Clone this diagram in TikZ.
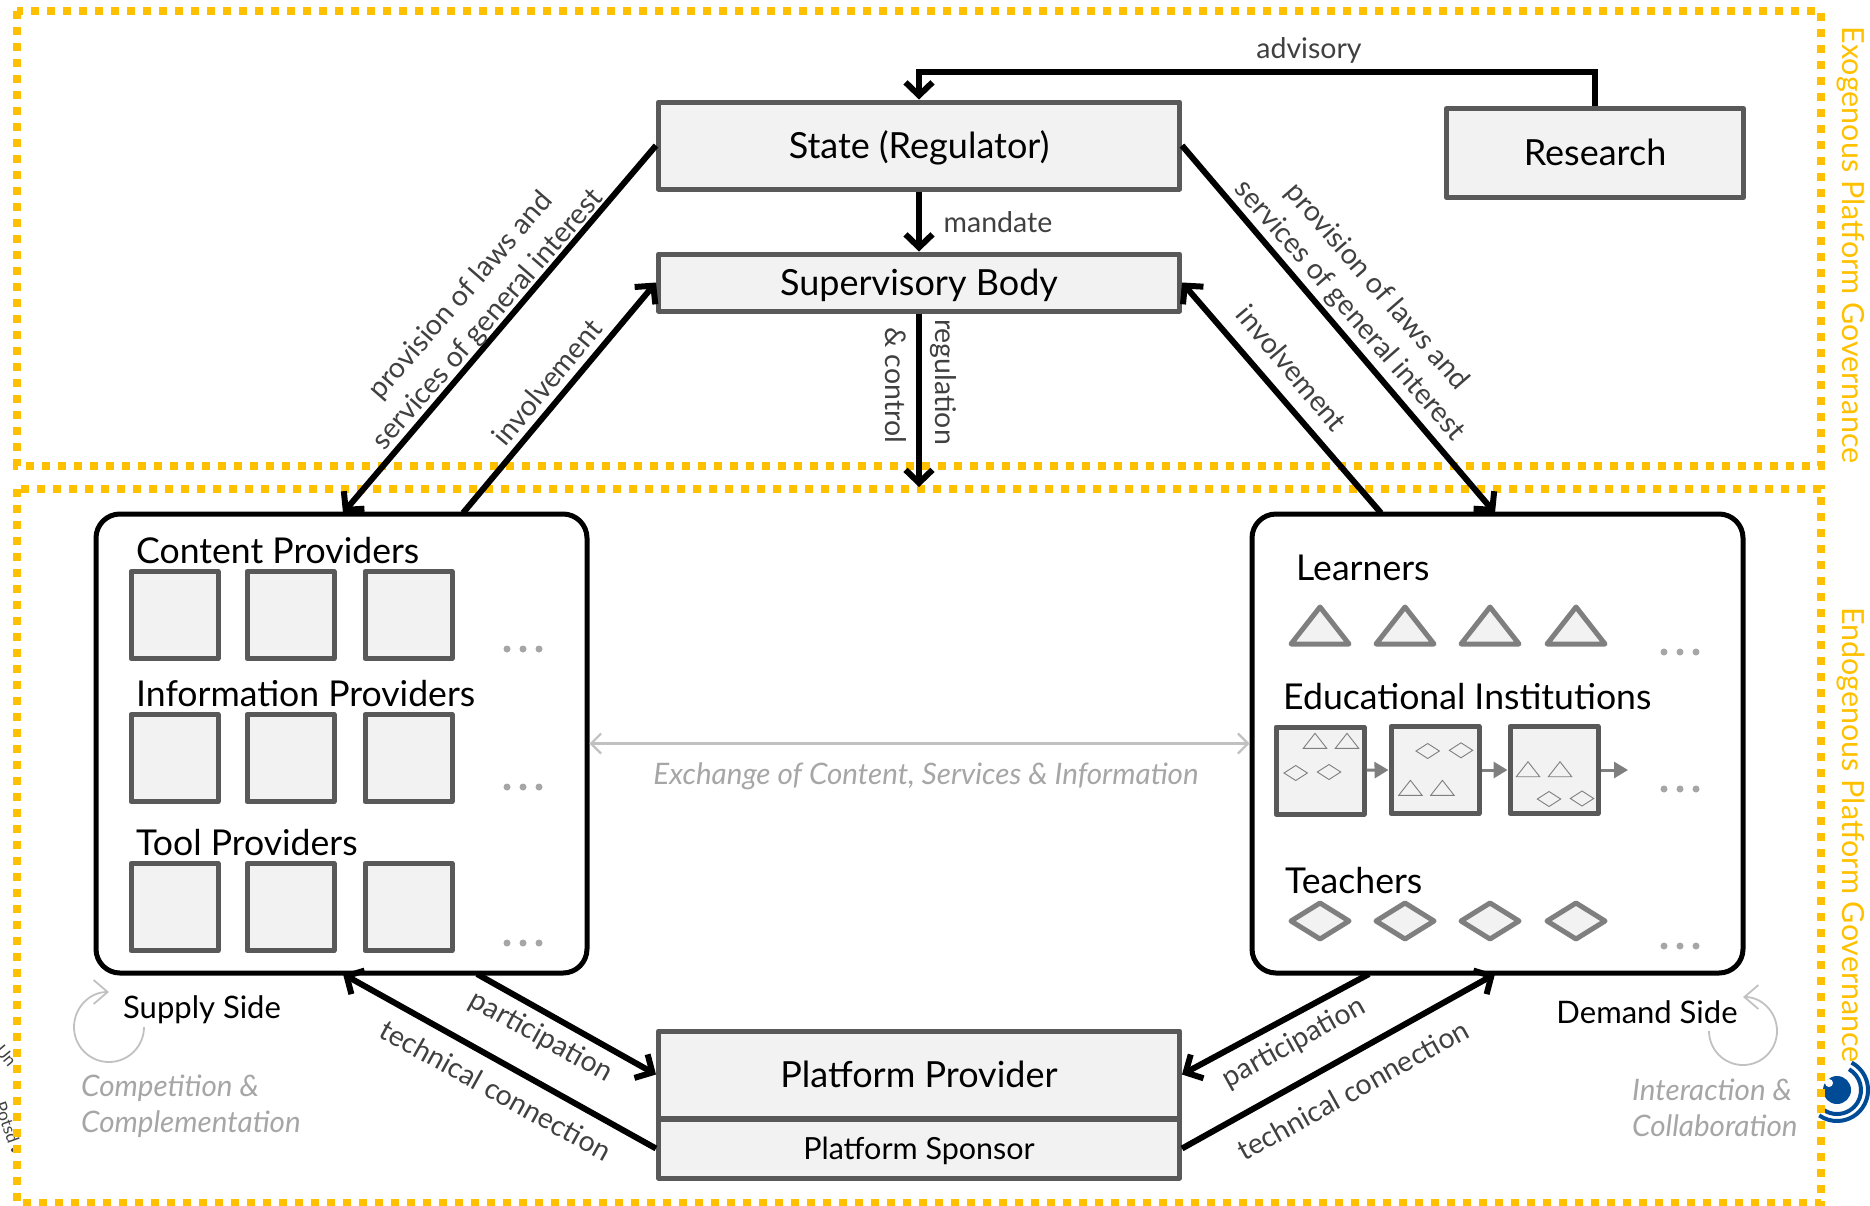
\documentclass[tikz,border=0pt]{standalone}
\usepackage{fontspec}
\setmainfont{Lato}
\usetikzlibrary{arrows.meta}
\definecolor{gold}{HTML}{FFC000}
\definecolor{boxfill}{HTML}{F2F2F2}
\definecolor{boxline}{HTML}{595959}
\definecolor{iconline}{HTML}{7F7F7F}
\definecolor{labeltext}{HTML}{404040}
\definecolor{softtext}{HTML}{A6A6A6}
\definecolor{logoblue}{HTML}{004B96}
\tikzset{
    govline/.style={draw=gold, line width=8pt, dash pattern=on 8pt off 8pt},
    govtext/.style={text=gold, rotate=-90, font=\fontsize{30.5}{34}\selectfont},
    actor/.style={draw=boxline, fill=boxfill, line width=5pt, line join=round, inner sep=0pt, text height=25pt, text depth=0pt, font=\fontsize{36}{40}\selectfont},
    side/.style={draw=black, fill=white, line width=5pt, rounded corners=24pt, inner sep=0pt},
    member/.style={draw=boxline, fill=boxfill, line width=5pt, line join=round, inner sep=0pt, minimum width=87pt, minimum height=87pt},
    icon/.style={draw=iconline, fill=boxfill, line width=5pt, line join=round},
    minicon/.style={draw=iconline, line width=0.9pt},
    dots/.style={fill=softtext, draw=none},
    grouptext/.style={anchor=west, inner sep=0pt, font=\fontsize{35.6}{40}\selectfont},
    sidetext/.style={inner sep=0pt, font=\fontsize{31}{36}\selectfont},
    softlabel/.style={anchor=west, align=left, inner sep=0pt, text=softtext, font=\fontsize{29.6}{36}\selectfont\itshape},
    edgetext/.style={inner sep=0pt, align=center, text=labeltext, font=\fontsize{28.5}{36}\selectfont},
    link/.style={line width=6pt, -{Straight Barb[length=13pt,width=27pt]}},
    softlink/.style={draw=softtext!70, line width=2.2pt, {Straight Barb[length=10pt,width=20pt]}-{Straight Barb[length=10pt,width=20pt]}},
    cycler/.style={draw=softtext!70, line width=1.8pt, -{Straight Barb[length=14pt,width=24pt]}},
    flow/.style={draw=iconline, line width=3pt, -{Triangle[length=14pt,width=16pt]}},
}
\begin{document}
\begin{tikzpicture}[x=1pt, y=-1pt]
    \useasboundingbox (0,0) rectangle (1870,1205);

    % leftovers of the logos at the image edges
    \node[rotate=-50, text=labeltext, font=\fontsize{17}{20}\selectfont] (uni) at (6,1056) {Un};
    \node[rotate=-70, text=labeltext, font=\fontsize{17}{20}\selectfont] (pots) at (7,1122) {Potsd};
    \fill[labeltext] (13,1150) circle (2pt);
    \begin{scope}[shift={(1837,1090)}, y=1pt]
        \fill[logoblue] (0,0) circle (14pt);
        \fill[white] (-8,7) circle (4pt);
        \draw[logoblue, line width=4pt] (60:24pt) arc[start angle=60, end angle=-125, radius=24pt];
        \draw[logoblue, line width=4pt] (62:31pt) arc[start angle=62, end angle=-125, radius=31pt];
    \end{scope}

    % the two governance frames
    \draw[govline] (17,11) rectangle (1821,466);
    \draw[govline] (17,489) rectangle (1821,1203);
    \node[govtext] (exotext) at (1851,245) {Exogenous Platform Governance};
    \node[govtext] (endotext) at (1851,835) {Endogenous Platform Governance};

    % actors
    \node[actor, minimum width=521pt, minimum height=87pt] (state) at (919,145.5) {State (Regulator)};
    \node[actor, minimum width=297pt, minimum height=89pt] (research) at (1595,153) {Research};
    \node[actor, minimum width=521pt, minimum height=57pt] (super) at (919,282.5) {Supervisory Body};
    \node[actor, minimum width=521pt, minimum height=87pt] (provider) at (919,1074.5) {Platform Provider};
    \node[actor, minimum width=521pt, minimum height=59pt, text height=21pt, font=\fontsize{30.5}{34}\selectfont] (sponsor) at (919,1148.5) {Platform Sponsor};
    \node[side, minimum width=491pt, minimum height=459pt] (supply) at (341.5,743.5) {};
    \node[side, minimum width=491pt, minimum height=459pt] (demand) at (1497.5,743.5) {};

    % free ends on the two side boxes
    \coordinate (supplyin) at (343,513);
    \coordinate (supplyout) at (463,513);
    \coordinate (demandout) at (1381,513);
    \coordinate (demandin) at (1495,513);
    \coordinate (supplydown) at (477,974);
    \coordinate (supplyup) at (343,974);
    \coordinate (demanddown) at (1369,974);
    \coordinate (demandup) at (1495,974);
    \coordinate (controlend) at (919,487);

    % supply side
    \node[grouptext] (content) at (136,551) {Content Providers};
    \node[grouptext] (info) at (136,694) {Information Providers};
    \node[grouptext] (tool) at (136,843) {Tool Providers};
    \foreach \y / \yname in {615/a, 758/b, 907/c}
    {
        \foreach \x / \xname in {174.5/1, 290.5/2, 408.5/3}
            \node[member] (\yname\xname) at (\x,\y) {};
    }
    \foreach \y in {649, 787, 943}
    {
        \foreach \x in {507, 523, 539}
            \fill[dots] (\x,\y) circle (3.5pt);
    }

    % demand side
    \node[grouptext] (learners) at (1296,568) {Learners};
    \node[grouptext] (schools) at (1283,697) {Educational Institutions};
    \node[grouptext] (teachers) at (1285,881) {Teachers};
    \foreach \x in {1291, 1376, 1461, 1547}
    {
        \draw[icon] (\x,644) -- ++(29,-37) -- ++(29,37) -- cycle;
        \draw[icon] (\x,921) -- ++(29,-18) -- ++(29,18) -- ++(-29,18) -- cycle;
    }
    \node[member, minimum width=88pt] (inst1) at (1320,770.5) {};
    \node[member, minimum width=88pt] (inst2) at (1435,770) {};
    \node[member, minimum width=88pt] (inst3) at (1554,770) {};
    \coordinate (instend) at (1628,770);
    \draw[flow] (inst1) -- (inst2.west);
    \draw[flow] (inst2) -- (inst3.west);
    \draw[flow] (inst3) -- (instend);
    \foreach \x / \y in {1303.3/748.3, 1335.3/748.3, 1398.7/795.3, 1430.7/795.3, 1516.3/776.7, 1548.3/776.7}
        \draw[minicon] (\x,\y) -- ++(11.7,-15) -- ++(11.7,15) -- cycle;
    \foreach \x / \y in {1284/773, 1317.3/772, 1416/751, 1449.3/750.3, 1537.3/799, 1570.3/798.5}
        \draw[minicon] (\x,\y) -- ++(11.7,-7.5) -- ++(11.7,7.5) -- ++(-11.7,7.5) -- cycle;
    \foreach \y in {652, 789, 946}
    {
        \foreach \x in {1664, 1680, 1696}
            \fill[dots] (\x,\y) circle (3.5pt);
    }

    % connectors
    \draw[link] (research.north) -- ++(0,-34) -| (state.north);
    \draw[link] (state) -- (super);
    \draw[link] (super) -- (controlend);
    \draw[link] (state.west) -- (supplyin);
    \draw[link] (state.east) -- (demandin);
    \draw[link] (supplyout) -- (super.west);
    \draw[link] (demandout) -- (super.east);
    \draw[link] (supplydown) -- (provider.west);
    \draw[link] (demanddown) -- (provider.east);
    \draw[link] (sponsor.west) -- (supplyup);
    \draw[link] (sponsor.east) -- (demandup);
    \coordinate (swapleft) at (supply.east);
    \coordinate (swapright) at (demand.west);
    \draw[softlink] (swapleft) -- (swapright);

    % connector labels
    \node[edgetext] (advisory) at (1309,50) {advisory};
    \node[edgetext] (mandate) at (998,222) {mandate};
    \node[edgetext, rotate=-90] (regul) at (943,382) {regulation};
    \node[edgetext, rotate=-90] (ctrl) at (896,385) {\& control};
    \node[edgetext, rotate=49] (lawsl) at (475,308) {provision of laws and\\services of general interest};
    \node[edgetext, rotate=-49] (lawsr) at (1363,299) {provision of laws and\\services of general interest};
    \node[edgetext, rotate=50] (involl) at (547,382) {involvement};
    \node[edgetext, rotate=-50] (involr) at (1292,368) {involvement};
    \node[edgetext, rotate=-29] (partl) at (541,1037) {participation};
    \node[edgetext, rotate=29] (partr) at (1294,1043) {participation};
    \node[edgetext, rotate=-29] (techl) at (496,1090) {technical connection};
    \node[edgetext, rotate=29] (techr) at (1353,1090) {technical connection};
    \node[softlabel, anchor=center] (swap) at (926,776) {Exchange of Content, Services \& Information};

    % side labels and loops
    \node[sidetext] (supplytext) at (202,1010) {Supply Side};
    \node[sidetext] (demandtext) at (1647,1012) {Demand Side};
    \node[softlabel] (supplysoft) at (81,1106) {Competition \&\\Complementation};
    \node[softlabel] (demandsoft) at (1632,1108) {Interaction \&\\Collaboration};
    \begin{scope}[shift={(109,1027)}, y=1pt]
        \draw[cycler] (0:35pt) arc[start angle=0, end angle=-270, radius=35pt];
    \end{scope}
    \begin{scope}[shift={(1743,1031)}, y=1pt]
        \draw[cycler] (180:34pt) arc[start angle=180, end angle=450, radius=34pt];
    \end{scope}
\end{tikzpicture}
\end{document}
